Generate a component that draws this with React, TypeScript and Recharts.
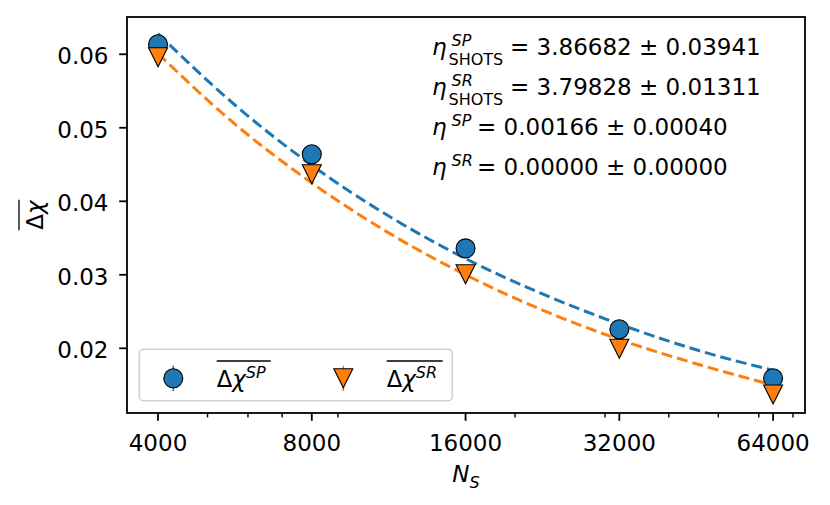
import React from 'react';
import { ComposedChart, Line, Scatter, XAxis, YAxis } from 'recharts';

// ---- data ----
const nShots = [4000, 8000, 16000, 32000, 64000];
const spMean = [0.06136, 0.04639, 0.0336, 0.02259, 0.01592];
const srMean = [0.0596, 0.04367, 0.03008, 0.01995, 0.01371];

const fitN = [4000, 5657, 8000, 11314, 16000, 22627, 32000, 45255, 64000];
const spFit = [0.0628, 0.0531, 0.0449, 0.038, 0.0322, 0.0274, 0.0233, 0.0198, 0.017];
const srFit = [0.0601, 0.0505, 0.0425, 0.0357, 0.03, 0.0252, 0.0212, 0.0179, 0.015];

const xMajorTicks = [4000, 8000, 16000, 32000, 64000];
const xMinorTicks = [5000, 6000, 7000, 9000, 20000, 30000, 40000, 50000, 60000, 70000];
const yTicks = [0.02, 0.03, 0.04, 0.05, 0.06];
const xDomain = [3478, 73900];
const yDomain = [0.0112, 0.06507];

const annotationLines = [
  { sup: 'SP', sub: 'SHOTS', value: '3.86682', err: '0.03941' },
  { sup: 'SR', sub: 'SHOTS', value: '3.79828', err: '0.01311' },
  { sup: 'SP', sub: '', value: '0.00166', err: '0.00040' },
  { sup: 'SR', sub: '', value: '0.00000', err: '0.00000' },
];

// ---- styling / layout ----
const FONT = "'DejaVu Sans', sans-serif";
const BLUE = '#1f77b4';
const ORANGE = '#ff7f0e';
const W = 830;
const H = 505;
const PLOT = { left: 127, top: 17, right: 805, bottom: 413 };

const spPoints = nShots.map((x, i) => ({ x, y: spMean[i] }));
const srPoints = nShots.map((x, i) => ({ x, y: srMean[i] }));
const spFitPts = fitN.map((x, i) => ({ x, y: spFit[i] }));
const srFitPts = fitN.map((x, i) => ({ x, y: srFit[i] }));

const R = 9.5;

function CircleShape(props: any) {
  const { cx, cy } = props;
  if (cx == null || cy == null) return null;
  return <circle cx={cx} cy={cy} r={R} fill={BLUE} stroke="#000" strokeWidth={1.1} />;
}

function TriangleShape(props: any) {
  const { cx, cy } = props;
  if (cx == null || cy == null) return null;
  const pts = `${cx - R},${cy - R} ${cx + R},${cy - R} ${cx},${cy + R}`;
  return <polygon points={pts} fill={ORANGE} stroke="#000" strokeWidth={1.1} strokeLinejoin="miter" />;
}

function XTick(props: any) {
  const { x, y, payload } = props;
  const v = payload.value;
  const major = xMajorTicks.includes(v);
  return (
    <g>
      <line x1={x} x2={x} y1={y} y2={y + (major ? 7.8 : 4.4)} stroke="#000" strokeWidth={major ? 1.8 : 1.4} />
      {major && (
        <text x={x} y={y + 37.7} textAnchor="middle" fontSize={23} fontFamily={FONT} fill="#000">
          {v}
        </text>
      )}
    </g>
  );
}

function YTick(props: any) {
  const { x, y, payload } = props;
  return (
    <g>
      <line x1={x - 7.8} x2={x} y1={y} y2={y} stroke="#000" strokeWidth={1.8} />
      <text x={x - 18.5} y={y + 10} textAnchor="end" fontSize={23} fontFamily={FONT} fill="#000">
        {payload.value.toFixed(2)}
      </text>
    </g>
  );
}

function Overlay() {
  const lineBase = [55, 95, 135, 175];
  return (
    <svg
      width={W}
      height={H}
      style={{ position: 'absolute', left: 0, top: 0, pointerEvents: 'none' }}
    >
      {/* frame */}
      <rect
        x={PLOT.left}
        y={PLOT.top}
        width={PLOT.right - PLOT.left}
        height={PLOT.bottom - PLOT.top}
        fill="none"
        stroke="#000"
        strokeWidth={1.8}
      />
      {/* annotation */}
      <g fontFamily={FONT} fill="#000">
        {annotationLines.map((l, i) => {
          const b = lineBase[i];
          const eqX = l.sub ? 510 : 477;
          return (
            <g key={i}>
              <text fontSize={23}>
                <tspan x={432} y={b} fontStyle="italic">η</tspan>
                <tspan x={451.5} y={b - 9.5} fontSize={16} fontStyle="italic">{l.sup}</tspan>
                <tspan x={eqX} y={b}>{`= ${l.value} ± ${l.err}`}</tspan>
              </text>
              {l.sub && (
                <text x={448.5} y={b + 9.5} fontSize={16}>{l.sub}</text>
              )}
            </g>
          );
        })}
      </g>
      {/* legend */}
      <rect x={139.3} y={349.3} width={313} height={51.4} rx={4} fill="#fff" fillOpacity={0.8} stroke="#d0d0d0" strokeWidth={1.6} />
      <line x1={173.3} x2={173.3} y1={365.7} y2={391} stroke={BLUE} strokeWidth={1.6} />
      <circle cx={173.3} cy={378.3} r={R} fill={BLUE} stroke="#000" strokeWidth={1.1} />
      <line x1={343.3} x2={343.3} y1={365.7} y2={391} stroke={ORANGE} strokeWidth={1.6} />
      <polygon
        points={`${343.3 - R},${378.3 - R} ${343.3 + R},${378.3 - R} ${343.3},${378.3 + R}`}
        fill={ORANGE}
        stroke="#000"
        strokeWidth={1.1}
      />
      <g fontFamily={FONT} fill="#000">
        <text fontSize={22.8}>
          <tspan x={216.7} y={386.7}>Δ</tspan>
          <tspan fontStyle="italic">χ</tspan>
          <tspan fontSize={16} dy={-8.5} fontStyle="italic">SP</tspan>
        </text>
        <line x1={216.7} x2={270.7} y1={361} y2={361} stroke="#000" strokeWidth={1.3} />
        <text fontSize={22.8}>
          <tspan x={386.7} y={386.7}>Δ</tspan>
          <tspan fontStyle="italic">χ</tspan>
          <tspan fontSize={16} dy={-8.5} fontStyle="italic">SR</tspan>
        </text>
        <line x1={386.7} x2={442.7} y1={361} y2={361} stroke="#000" strokeWidth={1.3} />
      </g>
      {/* axis labels */}
      <text x={466} y={482} textAnchor="middle" fontFamily={FONT} fontSize={23} fill="#000">
        <tspan fontStyle="italic">N</tspan>
        <tspan fontStyle="italic" fontSize={16} dy={6}>S</tspan>
      </text>
      <g transform={`translate(43, ${(PLOT.top + PLOT.bottom) / 2}) rotate(-90)`} fontFamily={FONT}>
        <text x={0} y={0} textAnchor="middle" fontSize={23} fill="#000">
          <tspan>Δ</tspan>
          <tspan fontStyle="italic">χ</tspan>
        </text>
        <line x1={-15.3} x2={15.3} y1={-24} y2={-24} stroke="#000" strokeWidth={1.3} />
      </g>
    </svg>
  );
}

export default function App() {
  return (
    <div style={{ position: 'relative', width: W, height: H, margin: '-8px 0 0 -8px', background: '#fff' }}>
      <ComposedChart
        width={W}
        height={H}
        margin={{ top: PLOT.top, right: W - PLOT.right, left: 0, bottom: 0 }}
      >
        <XAxis
          dataKey="x"
          type="number"
          scale="log"
          domain={xDomain}
          allowDataOverflow
          ticks={[...xMajorTicks, ...xMinorTicks]}
          interval={0}
          tick={<XTick />}
          tickLine={false}
          axisLine={false}
          tickSize={0}
          tickMargin={0}
          height={H - PLOT.bottom}
        />
        <YAxis
          dataKey="y"
          type="number"
          domain={yDomain}
          allowDataOverflow
          ticks={yTicks}
          interval={0}
          tick={<YTick />}
          tickLine={false}
          axisLine={false}
          tickSize={0}
          tickMargin={0}
          width={PLOT.left}
        />
        <Line
          data={spFitPts}
          dataKey="y"
          type="monotone"
          stroke={BLUE}
          strokeWidth={3}
          strokeDasharray="11 5"
          dot={false}
          activeDot={false}
          isAnimationActive={false}
        />
        <Line
          data={srFitPts}
          dataKey="y"
          type="monotone"
          stroke={ORANGE}
          strokeWidth={3}
          strokeDasharray="11 5"
          dot={false}
          activeDot={false}
          isAnimationActive={false}
        />
        <Scatter data={spPoints} dataKey="y" shape={<CircleShape />} isAnimationActive={false} />
        <Scatter data={srPoints} dataKey="y" shape={<TriangleShape />} isAnimationActive={false} />
      </ComposedChart>
      <Overlay />
    </div>
  );
}
